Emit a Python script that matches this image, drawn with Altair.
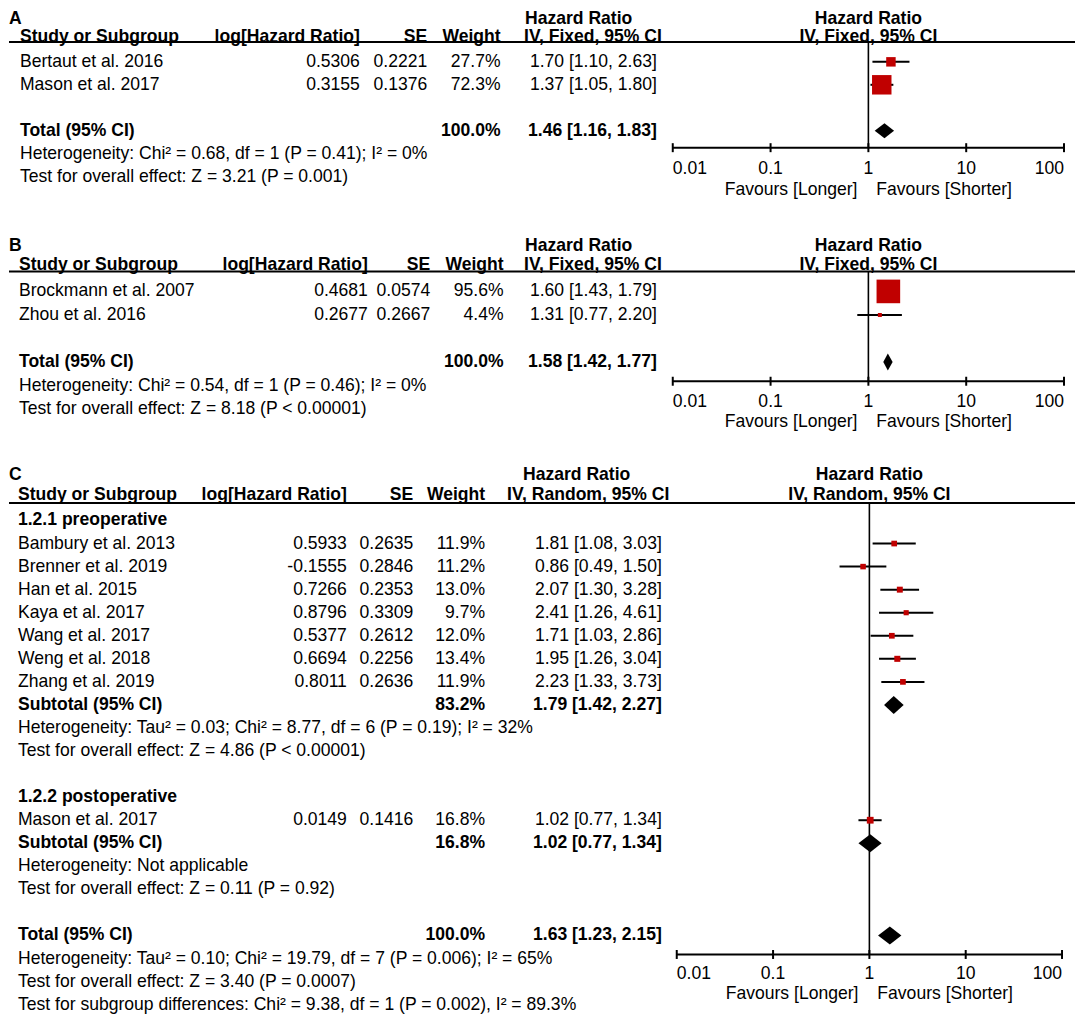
import altair as alt
import pandas as pd

FONT = "Liberation Sans"
FS = 17.6
RED = "#c00000"
W = 1068

# ---------------- data ----------------
# Panel A
A_study = ["Bertaut et al. 2016", "Mason et al. 2017"]
A_loghr = [0.5306, 0.3155]
A_se = [0.2221, 0.1376]
A_weight = [27.7, 72.3]
A_hr = [1.70, 1.37]
A_lo = [1.10, 1.05]
A_hi = [2.63, 1.80]
A_total = [1.46, 1.16, 1.83]
A_notes = ["Heterogeneity: Chi² = 0.68, df = 1 (P = 0.41); I² = 0%",
           "Test for overall effect: Z = 3.21 (P = 0.001)"]

# Panel B
B_study = ["Brockmann et al. 2007", "Zhou et al. 2016"]
B_loghr = [0.4681, 0.2677]
B_se = [0.0574, 0.2667]
B_weight = [95.6, 4.4]
B_hr = [1.60, 1.31]
B_lo = [1.43, 0.77]
B_hi = [1.79, 2.20]
B_total = [1.58, 1.42, 1.77]
B_notes = ["Heterogeneity: Chi² = 0.54, df = 1 (P = 0.46); I² = 0%",
           "Test for overall effect: Z = 8.18 (P < 0.00001)"]

# Panel C
C1_name = "1.2.1 preoperative"
C1_study = ["Bambury et al. 2013", "Brenner et al. 2019", "Han et al. 2015",
            "Kaya et al. 2017", "Wang et al. 2017", "Weng et al. 2018", "Zhang et al. 2019"]
C1_loghr = [0.5933, -0.1555, 0.7266, 0.8796, 0.5377, 0.6694, 0.8011]
C1_se = [0.2635, 0.2846, 0.2353, 0.3309, 0.2612, 0.2256, 0.2636]
C1_weight = [11.9, 11.2, 13.0, 9.7, 12.0, 13.4, 11.9]
C1_hr = [1.81, 0.86, 2.07, 2.41, 1.71, 1.95, 2.23]
C1_lo = [1.08, 0.49, 1.30, 1.26, 1.03, 1.26, 1.33]
C1_hi = [3.03, 1.50, 3.28, 4.61, 2.86, 3.04, 3.73]
C1_sub = [1.79, 1.42, 2.27]
C1_sub_weight = 83.2
C1_notes = ["Heterogeneity: Tau² = 0.03; Chi² = 8.77, df = 6 (P = 0.19); I² = 32%",
            "Test for overall effect: Z = 4.86 (P < 0.00001)"]
C2_name = "1.2.2 postoperative"
C2_study = ["Mason et al. 2017"]
C2_loghr = [0.0149]
C2_se = [0.1416]
C2_weight = [16.8]
C2_hr = [1.02]
C2_lo = [0.77]
C2_hi = [1.34]
C2_sub = [1.02, 0.77, 1.34]
C2_sub_weight = 16.8
C2_notes = ["Heterogeneity: Not applicable",
            "Test for overall effect: Z = 0.11 (P = 0.92)"]
C_total = [1.63, 1.23, 2.15]
C_notes = ["Heterogeneity: Tau² = 0.10; Chi² = 19.79, df = 7 (P = 0.006); I² = 65%",
           "Test for overall effect: Z = 3.40 (P = 0.0007)",
           "Test for subgroup differences: Chi² = 9.38, df = 1 (P = 0.002), I² = 89.3%"]

TICKS = [0.01, 0.1, 1, 10, 100]
TICK_LABELS = ["0.01", "0.1", "1", "10", "100"]
FAVOURS = ["Favours [Longer]", "Favours [Shorter]"]
HEAD = ["Study or Subgroup", "log[Hazard Ratio]", "SE", "Weight"]


# ---------------- helpers ----------------
def ci(e, l, h):
    return f"{e:.2f} [{l:.2f}, {h:.2f}]"


def header_cells(letter, method):
    return [
        (-2, "label", letter, True),
        (-2, "hh", "Hazard Ratio", True),
        (-2, "fh", "Hazard Ratio", True),
        (-1, "name", HEAD[0], True),
        (-1, "logv", HEAD[1], True),
        (-1, "se", HEAD[2], True),
        (-1, "w", HEAD[3], True),
        (-1, "ivh", method, True),
        (-1, "fh", method, True),
    ]


def study_cells(start, names, loghr, se, wt, hr, lo, hi):
    cells, forest = [], []
    for i, n in enumerate(names):
        r = start + i
        cells += [(r, "name", n, False), (r, "logv", f"{loghr[i]:.4f}", False),
                  (r, "se", f"{se[i]:.4f}", False), (r, "w", f"{wt[i]:.1f}%", False),
                  (r, "hr", ci(hr[i], lo[i], hi[i]), False)]
        forest.append({"row": r, "hr": hr[i], "lo": lo[i], "hi": hi[i], "w": wt[i]})
    return cells, forest


def pooled_cells(r, label, weight, est):
    return [(r, "name", label, True), (r, "w", f"{weight:.1f}%", True),
            (r, "hr", ci(*est), True)]


def note_cells(start, notes):
    return [(start + i, "name", t, False) for i, t in enumerate(notes)]


def make_panel(cells, forest, diamonds, g):
    px, top, H = g["px"], g["row0"], g["H"]
    r_t = -top / px
    r_b = r_t + H / px
    ysc = alt.Scale(domain=[r_t, r_b], reverse=True, nice=False, zero=False)
    xsc = alt.Scale(type="log", domain=[0.01, 100], range=g["xr"], nice=False)
    line_r = (g["line"] - top) / px
    axis_r = (g["axis"] - top) / px

    def Yf(f):
        return alt.Y(f, type="quantitative", scale=ysc, axis=None)

    def Yd(d):
        return alt.YDatum(d, type="quantitative", scale=ysc, axis=None)

    def Xf(f):
        return alt.X(f, type="quantitative", scale=xsc, axis=None)

    def Xd(d):
        return alt.XDatum(d, type="quantitative", scale=xsc, axis=None)

    one = pd.DataFrame({"k": [0]})
    layers = []
    # header line across the table
    layers.append(alt.Chart(one).mark_rule(color="black", strokeWidth=2).encode(
        x=alt.value(0), x2=alt.value(W), y=Yd(line_r)))
    # line of no effect
    layers.append(alt.Chart(one).mark_rule(color="black", strokeWidth=1.6).encode(
        x=Xd(1), y=Yd(line_r), y2=alt.Y2Datum(axis_r)))
    # axis line
    layers.append(alt.Chart(one).mark_rule(color="black", strokeWidth=2).encode(
        x=Xd(0.01), x2=alt.X2Datum(100), y=Yd(axis_r)))
    tick_df = pd.DataFrame({"t": TICKS, "lab": TICK_LABELS, "i": list(range(len(TICKS)))})
    layers.append(alt.Chart(tick_df).mark_point(
        shape="M0,-1L0,1", size=81, strokeWidth=2, color="black", filled=False, opacity=1
    ).encode(x=Xf("t"), y=Yd(axis_r)))
    n = len(TICKS) - 1
    for cond, al in [(f"datum.i == 0", "left"), (f"datum.i > 0 && datum.i < {n}", "center"),
                     (f"datum.i == {n}", "right")]:
        layers.append(alt.Chart(tick_df).transform_filter(cond).mark_text(
            align=al, baseline="middle", dy=g["tick_dy"], font=FONT, fontSize=FS, color="black"
        ).encode(x=Xf("t"), y=Yd(axis_r), text="lab:N"))
    fav_df = pd.DataFrame({"t": [1, 1], "lab": FAVOURS, "i": [0, 1]})
    for i, al, dx in [(0, "right", -11), (1, "left", 8)]:
        layers.append(alt.Chart(fav_df).transform_filter(f"datum.i == {i}").mark_text(
            align=al, baseline="middle", dx=dx, dy=g["fav_dy"], font=FONT, fontSize=FS, color="black"
        ).encode(x=Xf("t"), y=Yd(axis_r), text="lab:N"))

    # studies
    sdf = pd.DataFrame(forest)
    layers.append(alt.Chart(sdf).mark_rule(color="black", strokeWidth=2).encode(
        x=Xf("lo"), x2="hi", y=Yf("row")))
    layers.append(alt.Chart(sdf).mark_square(color=RED, opacity=1).encode(
        x=Xf("hr"), y=Yf("row"),
        size=alt.Size("w:Q", scale=alt.Scale(domain=g["size_dom"], range=g["size_rng"],
                                             zero=False), legend=None)))

    # diamonds
    h = g["dh"] / px
    drows = []
    for k, (r, e, lo, hi) in enumerate(diamonds):
        drows += [{"id": k, "x": lo, "top": r, "bot": r},
                  {"id": k, "x": e, "top": r - h, "bot": r + h},
                  {"id": k, "x": hi, "top": r, "bot": r}]
    ddf = pd.DataFrame(drows)
    layers.append(alt.Chart(ddf).mark_area(color="black", opacity=1, orient="vertical").encode(
        x=Xf("x"), y=alt.Y("top", type="quantitative", scale=ysc, axis=None, stack=False),
        y2="bot", detail="id:N"))

    # text table
    tdf = pd.DataFrame(cells, columns=["row", "col", "text", "bold"])
    tdf["dy"] = tdf["row"].map(lambda r: g["hdy"].get(r, 0))
    for (col, bold, dy), grp in tdf.groupby(["col", "bold", "dy"]):
        if col == "fh":
            ex, al = Xd(1), "center"
        else:
            xx, al = g["cols"][col]
            ex = alt.value(xx)
        layers.append(alt.Chart(grp.reset_index(drop=True)).mark_text(
            align=al, baseline="middle", dy=float(dy), font=FONT, fontSize=FS,
            fontWeight="bold" if bold else "normal", color="black"
        ).encode(x=ex, y=Yf("row"), text="text:N"))

    return alt.layer(*layers).properties(width=W, height=H)


GEO = {
    "A": dict(H=226, row0=52, px=23.0, hdy={-2: 3, -1: -1.5}, line=32, axis=138,
              xr=[665, 1057], size_dom=[27.7, 72.3], size_rng=[90, 380], dh=7.5,
              tick_dy=21, fav_dy=42,
              cols=dict(label=(0, "left"), name=(11, "left"), logv=(351.5, "right"),
                        se=(419, "right"), w=(492.5, "right"), hh=(517, "left"),
                        ivh=(516, "left"), hr=(649, "right"))),
    "B": dict(H=230, row0=56, px=23.6, hdy={-2: 2, -1: -3}, line=36, axis=146,
              xr=[665, 1057], size_dom=[4.4, 95.6], size_rng=[16, 560], dh=8.5,
              tick_dy=20.5, fav_dy=41,
              cols=dict(label=(0, "left"), name=(10, "left"), logv=(359.5, "right"),
                        se=(422, "right"), w=(495.5, "right"), hh=(517, "left"),
                        ivh=(516, "left"), hr=(649, "right"))),
    "C": dict(H=550, row0=54.5, px=23.1, hdy={-2: 0.5, -1: -2}, line=37, axis=489.3,
              xr=[669, 1055], size_dom=[0, 16.8], size_rng=[0, 46], dh=9,
              tick_dy=19.5, fav_dy=39.5,
              cols=dict(label=(0, "left"), name=(9, "left"), logv=(338.5, "right"),
                        se=(405, "right"), w=(477, "right"), hh=(515, "left"),
                        ivh=(499, "left"), hr=(654, "right"))),
}

# Panel A
a_cells = header_cells("A", "IV, Fixed, 95% CI")
c, a_forest = study_cells(0, A_study, A_loghr, A_se, A_weight, A_hr, A_lo, A_hi)
a_cells += c
a_cells += pooled_cells(3, "Total (95% CI)", 100.0, A_total)
a_cells += note_cells(4, A_notes)
a_diam = [(3, *A_total)]

# Panel B
b_cells = header_cells("B", "IV, Fixed, 95% CI")
c, b_forest = study_cells(0, B_study, B_loghr, B_se, B_weight, B_hr, B_lo, B_hi)
b_cells += c
b_cells += pooled_cells(3, "Total (95% CI)", 100.0, B_total)
b_cells += note_cells(4, B_notes)
b_diam = [(3, *B_total)]

# Panel C
c_cells = header_cells("C", "IV, Random, 95% CI")
c_cells.append((0, "name", C1_name, True))
c, f1 = study_cells(1, C1_study, C1_loghr, C1_se, C1_weight, C1_hr, C1_lo, C1_hi)
c_cells += c
c_cells += pooled_cells(8, "Subtotal (95% CI)", C1_sub_weight, C1_sub)
c_cells += note_cells(9, C1_notes)
c_cells.append((12, "name", C2_name, True))
c, f2 = study_cells(13, C2_study, C2_loghr, C2_se, C2_weight, C2_hr, C2_lo, C2_hi)
c_cells += c
c_cells += pooled_cells(14, "Subtotal (95% CI)", C2_sub_weight, C2_sub)
c_cells += note_cells(15, C2_notes)
c_cells += pooled_cells(18, "Total (95% CI)", 100.0, C_total)
c_cells += note_cells(19, C_notes)
c_diam = [(8, *C1_sub), (14, *C2_sub), (18, *C_total)]

pA = make_panel(a_cells, a_forest, a_diam, GEO["A"])
pB = make_panel(b_cells, b_forest, b_diam, GEO["B"])
pC = make_panel(c_cells, f1 + f2, c_diam, GEO["C"])

chart = alt.vconcat(pA, pB, pC, spacing=0).resolve_scale(
    size="independent"
).properties(
    padding=0, background="white"
).configure_view(stroke=None)

chart.save("out.html", embed_options={"renderer": "svg", "actions": False})
